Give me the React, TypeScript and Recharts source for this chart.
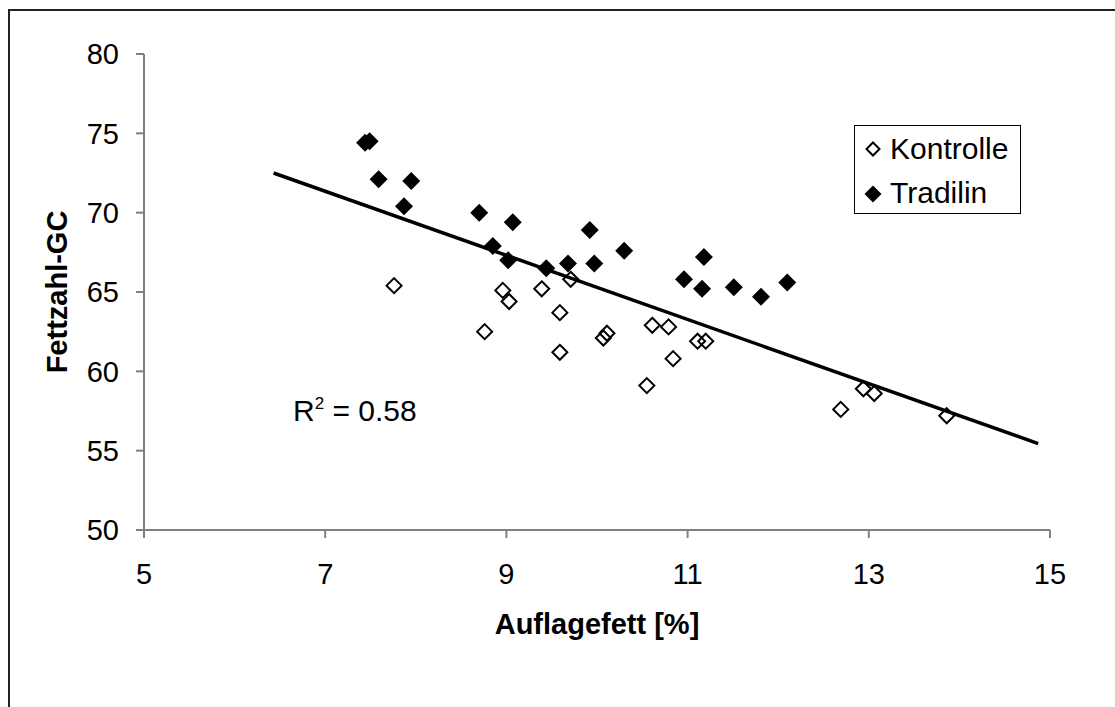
import React from 'react';
import { ScatterChart, Scatter, XAxis, YAxis, Legend } from 'recharts';

const kontrolleX = [7.76, 8.76, 8.96, 9.03, 9.39, 9.59, 9.71, 9.59, 10.07, 10.11, 10.61, 10.79, 10.55, 10.84, 11.11, 11.2, 12.69, 12.94, 13.06, 13.86];
const kontrolleY = [65.4, 62.5, 65.1, 64.4, 65.2, 63.7, 65.8, 61.2, 62.1, 62.4, 62.9, 62.8, 59.1, 60.8, 61.9, 61.9, 57.6, 58.9, 58.6, 57.2];

const tradilinX = [7.44, 7.49, 7.59, 7.95, 7.87, 8.7, 9.07, 8.85, 9.02, 9.44, 9.68, 9.97, 9.92, 10.3, 10.96, 11.18, 11.16, 11.51, 11.81, 12.1];
const tradilinY = [74.4, 74.5, 72.1, 72.0, 70.4, 70.0, 69.4, 67.9, 67.0, 66.5, 66.8, 66.8, 68.9, 67.6, 65.8, 67.2, 65.2, 65.3, 64.7, 65.6];

// Excel trendline end points
const trendX = [6.43, 14.87];
const trendY = [72.5, 55.45];

const xTicks = [5, 7, 9, 11, 13, 15];
const yTicks = [50, 55, 60, 65, 70, 75, 80];

const zip = (xs: number[], ys: number[]) => xs.map((x, i) => ({ x, y: ys[i] }));
const kontrolle = zip(kontrolleX, kontrolleY);
const tradilin = zip(tradilinX, tradilinY);
const trend = zip(trendX, trendY);

const FONT = '"Liberation Sans", Arial, sans-serif';
const AXIS = '#808080';

const diamond = (cx: number, cy: number, r: number) =>
  `${cx},${cy - r} ${cx + r},${cy} ${cx},${cy + r} ${cx - r},${cy}`;

const OpenDiamond = (props: any) => (
  <polygon points={diamond(props.cx, props.cy, 7.5)} fill="none" stroke="#000" strokeWidth={2} />
);
const FilledDiamond = (props: any) => (
  <polygon points={diamond(props.cx, props.cy, 9)} fill="#000" stroke="none" />
);
const NoDot = () => <g />;

const LegendBox = () => (
  <svg width={168} height={90} style={{ display: 'block' }}>
    <rect x={0.5} y={0.5} width={166} height={88} fill="#fff" stroke="#000" strokeWidth={1} />
    <polygon points={diamond(19, 24, 6.5)} fill="none" stroke="#000" strokeWidth={2} />
    <text x={36} y={34} fontSize={30} fontFamily={FONT} fill="#000">Kontrolle</text>
    <polygon points={diamond(19, 69, 8.5)} fill="#000" />
    <text x={36} y={78} fontSize={30} fontFamily={FONT} fill="#000">Tradilin</text>
  </svg>
);

const YLabel = (props: any) => {
  const vb = props.viewBox || { x: 84, y: 54, width: 60, height: 476 };
  const cx = vb.x - 17;
  const cy = vb.y + vb.height / 2;
  return (
    <text
      x={cx}
      y={cy}
      transform={`rotate(-90 ${cx} ${cy})`}
      textAnchor="middle"
      fontSize={29}
      fontWeight="bold"
      fontFamily={FONT}
      fill="#000"
    >
      Fettzahl-GC
    </text>
  );
};

export default function App() {
  return (
    <div style={{ position: 'absolute', left: 0, top: 0, width: 1115, height: 707, background: '#fff', fontFamily: FONT }}>
      <div
        style={{
          position: 'absolute',
          left: 8,
          top: 9,
          width: 1120,
          height: 710,
          borderTop: '2px solid #222',
          borderLeft: '2px solid #222',
        }}
      />
      <div style={{ position: 'absolute', left: 0, top: 0 }}>
        <ScatterChart width={1115} height={707} margin={{ top: 54, right: 65, bottom: 147, left: 84 }}>
          <XAxis
            type="number"
            dataKey="x"
            domain={[5, 15]}
            ticks={xTicks}
            allowDataOverflow
            height={30}
            stroke={AXIS}
            strokeWidth={2}
            tickSize={8}
            tickMargin={25}
            tick={{ fontSize: 29, fill: '#000', fontFamily: FONT }}
            label={{
              value: 'Auflagefett [%]',
              position: 'bottom',
              offset: 53,
              style: { fontSize: 29, fontWeight: 'bold', fill: '#000', fontFamily: FONT },
            }}
          />
          <YAxis
            type="number"
            dataKey="y"
            domain={[50, 80]}
            ticks={yTicks}
            allowDataOverflow
            width={60}
            stroke={AXIS}
            strokeWidth={2}
            tickSize={8}
            tickMargin={17}
            tick={{ fontSize: 29, fill: '#000', fontFamily: FONT }}
            label={{ content: YLabel }}
          />
          <Legend
            layout="vertical"
            align="center"
            verticalAlign="middle"
            content={LegendBox}
            wrapperStyle={{ position: 'absolute', left: 854, top: 125, width: 168, height: 90 }}
          />
          <Scatter name="Kontrolle" data={kontrolle} shape={OpenDiamond} isAnimationActive={false} />
          <Scatter name="Tradilin" data={tradilin} shape={FilledDiamond} isAnimationActive={false} />
          <Scatter
            name="Trend"
            data={trend}
            shape={NoDot}
            line={{ stroke: '#000', strokeWidth: 3.5 }}
            legendType="none"
            isAnimationActive={false}
          />
        </ScatterChart>
      </div>
      <svg width={1115} height={707} style={{ position: 'absolute', left: 0, top: 0, pointerEvents: 'none' }}>
        <text x={293} y={421} fontSize={30} fontFamily={FONT} fill="#000">
          R<tspan dy={-12} fontSize={17}>2</tspan>
          <tspan dy={12}> = 0.58</tspan>
        </text>
      </svg>
    </div>
  );
}
